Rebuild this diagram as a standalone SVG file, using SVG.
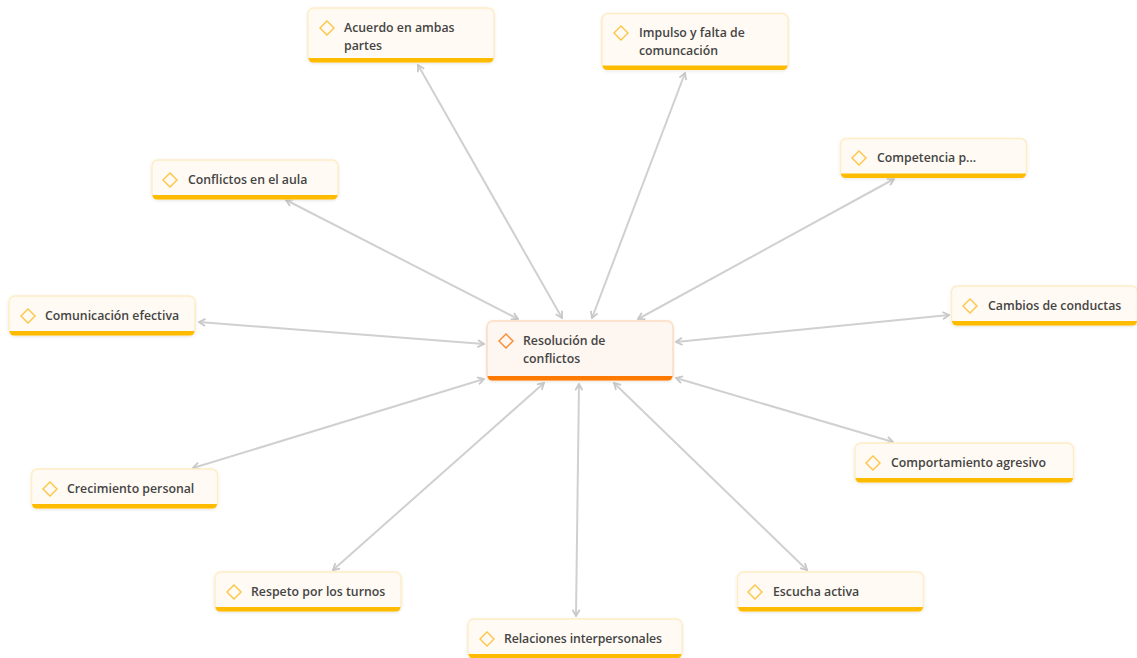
<svg xmlns="http://www.w3.org/2000/svg" width="1137" height="658" viewBox="0 0 1137 658">
<style>
.box{fill:#fffaf3;stroke:#ffedc6;stroke-width:1.5}
.bar{fill:#ffbb00}
.dia{fill:none;stroke:#fcc545;stroke-width:1.4}
.t{font-family:"Open Sans","Noto Sans",sans-serif;font-size:12.3px;font-weight:600;fill:#444444}
.c{fill:none;stroke:#d0d0d0;stroke-width:2;marker-start:url(#a);marker-end:url(#a)}
#n0 .box{fill:#fef6f0;stroke:#fddcc0}
#n0 .bar{fill:#ff7a00}
#n0 .dia{stroke:#fb8a2e}
</style>
<defs>
<marker id="a" viewBox="0 0 10 10" refX="9" refY="5" markerWidth="9" markerHeight="9" markerUnits="userSpaceOnUse" orient="auto-start-reverse"><path d="M2 1L9 5L2 9" fill="none" stroke="#c8c8c8" stroke-width="2"/></marker>
<filter id="s" x="-5%" y="-10%" width="110%" height="125%"><feDropShadow dx="0" dy="1" stdDeviation="1.5" flood-color="#000" flood-opacity=".1"/></filter>
</defs>
<g id="connectors">
<line class="c" x1="562" y1="318" x2="418" y2="65"/>
<line class="c" x1="592" y1="318" x2="685" y2="73"/>
<line class="c" x1="638" y1="319" x2="894" y2="179"/>
<line class="c" x1="676" y1="342" x2="949" y2="315"/>
<line class="c" x1="676" y1="378" x2="893" y2="442"/>
<line class="c" x1="614" y1="383" x2="807" y2="570"/>
<line class="c" x1="579" y1="384" x2="576" y2="616"/>
<line class="c" x1="544" y1="383" x2="333" y2="570"/>
<line class="c" x1="484" y1="379" x2="193" y2="468"/>
<line class="c" x1="484" y1="344" x2="199" y2="322"/>
<line class="c" x1="518" y1="319" x2="286" y2="200"/>
</g>
<g id="n0"><rect class="box" x="487" y="321" width="186" height="59" rx="6" filter="url(#s)"/><path class="bar" d="M487.500 376h185a4.500 4.500 0 0 1-4.500 4.500h-176a4.500 4.500 0 0 1-4.500-4.500z"/><path class="dia" d="M506 334l7 7-7 7-7-7z"/><text class="t" x="523" y="345">Resolución de</text><text class="t" x="523" y="362.500">conflictos</text></g>
<g id="n1"><rect class="box" x="308" y="8" width="186" height="54" rx="6" filter="url(#s)"/><path class="bar" d="M308.500 58h185a4.500 4.500 0 0 1-4.500 4.500h-176a4.500 4.500 0 0 1-4.500-4.500z"/><path class="dia" d="M327 21l7 7-7 7-7-7z"/><text class="t" x="344" y="32">Acuerdo en ambas</text><text class="t" x="344" y="49.500">partes</text></g>
<g id="n2"><rect class="box" x="602" y="13.500" width="186" height="56" rx="6" filter="url(#s)"/><path class="bar" d="M602.500 65.500h185a4.500 4.500 0 0 1-4.500 4.500h-176a4.500 4.500 0 0 1-4.500-4.500z"/><path class="dia" d="M621 26l7 7-7 7-7-7z"/><text class="t" x="639" y="37">Impulso y falta de</text><text class="t" x="639" y="55">comuncación</text></g>
<g id="n3"><rect class="box" x="840.500" y="138.500" width="186" height="39" rx="6" filter="url(#s)"/><path class="bar" d="M841 173.500h185a4.500 4.500 0 0 1-4.500 4.500h-176a4.500 4.500 0 0 1-4.500-4.500z"/><path class="dia" d="M859 151l7 7-7 7-7-7z"/><text class="t" x="877" y="162">Competencia p...</text></g>
<g id="n4"><rect class="box" x="951.500" y="286" width="186" height="39" rx="6" filter="url(#s)"/><path class="bar" d="M952 321h185a4.500 4.500 0 0 1-4.500 4.500h-176a4.500 4.500 0 0 1-4.500-4.500z"/><path class="dia" d="M970 299l7 7-7 7-7-7z"/><text class="t" x="988" y="310">Cambios de conductas</text></g>
<g id="n5"><rect class="box" x="855" y="443" width="218.500" height="39" rx="6" filter="url(#s)"/><path class="bar" d="M855.500 478h217.500a4.500 4.500 0 0 1-4.500 4.500h-208.500a4.500 4.500 0 0 1-4.500-4.500z"/><path class="dia" d="M873 456l7 7-7 7-7-7z"/><text class="t" x="891" y="467">Comportamiento agresivo</text></g>
<g id="n6"><rect class="box" x="737.500" y="572" width="186" height="39" rx="6" filter="url(#s)"/><path class="bar" d="M738 607h185a4.500 4.500 0 0 1-4.500 4.500h-176a4.500 4.500 0 0 1-4.500-4.500z"/><path class="dia" d="M755 585l7 7-7 7-7-7z"/><text class="t" x="773" y="596">Escucha activa</text></g>
<g id="n7"><rect class="box" x="468" y="619" width="214" height="39" rx="6" filter="url(#s)"/><path class="bar" d="M468.500 654h213a4.500 4.500 0 0 1-4.500 4.500h-204a4.500 4.500 0 0 1-4.500-4.500z"/><path class="dia" d="M487 632l7 7-7 7-7-7z"/><text class="t" x="504" y="643" textLength="158">Relaciones interpersonales</text></g>
<g id="n8"><rect class="box" x="215" y="572" width="186" height="39" rx="6" filter="url(#s)"/><path class="bar" d="M215.500 607h185a4.500 4.500 0 0 1-4.500 4.500h-176a4.500 4.500 0 0 1-4.500-4.500z"/><path class="dia" d="M234 585l7 7-7 7-7-7z"/><text class="t" x="251" y="596">Respeto por los turnos</text></g>
<g id="n9"><rect class="box" x="31.500" y="469" width="186" height="39" rx="6" filter="url(#s)"/><path class="bar" d="M32 504h185a4.500 4.500 0 0 1-4.500 4.500h-176a4.500 4.500 0 0 1-4.500-4.500z"/><path class="dia" d="M50 482l7 7-7 7-7-7z"/><text class="t" x="67" y="493">Crecimiento personal</text></g>
<g id="n10"><rect class="box" x="9" y="296" width="186" height="39" rx="6" filter="url(#s)"/><path class="bar" d="M9.500 331h185a4.500 4.500 0 0 1-4.500 4.500h-176a4.500 4.500 0 0 1-4.500-4.500z"/><path class="dia" d="M28 309l7 7-7 7-7-7z"/><text class="t" x="45" y="320">Comunicación efectiva</text></g>
<g id="n11"><rect class="box" x="152" y="160" width="186" height="39" rx="6" filter="url(#s)"/><path class="bar" d="M152.500 195h185a4.500 4.500 0 0 1-4.500 4.500h-176a4.500 4.500 0 0 1-4.500-4.500z"/><path class="dia" d="M170 173l7 7-7 7-7-7z"/><text class="t" x="188" y="184">Conflictos en el aula</text></g>
</svg>
